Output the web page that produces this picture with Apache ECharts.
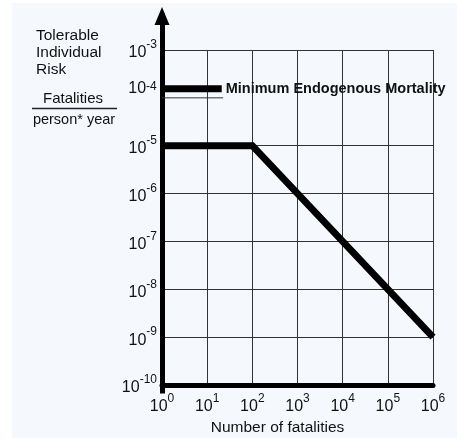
<!DOCTYPE html>
<html>
<head>
<meta charset="utf-8">
<script src="https://cdn.jsdelivr.net/npm/echarts@6/dist/echarts.min.js"></script>
<style>
  body { margin: 0; background: #fff; }
  #panel { position: absolute; left: 12px; top: 3px; width: 445px; height: 435px; background: #f5f9fe; }
  #main { position: absolute; left: 0; top: 0; width: 457px; height: 441px; }
</style>
</head>
<body>
<div id="panel"></div>
<div id="main"></div>
<script>
// data
const criterionX = [1, 100, 1e6];
const criterionY = [1e-5, 1e-5, 1e-9];
const mortalityX = [1, 21];
const mortalityY = [1.55e-4, 1.55e-4];
const shortGridX = [1, 22.6];
const shortGridY = [1e-4, 1e-4];
const mortalityLabel = 'Minimum Endogenous Mortality';
const yTitle = ['Tolerable', 'Individual', 'Risk'];
const unitTop = 'Fatalities';
const unitBottom = 'person* year';
const xTitle = 'Number of fatalities';

const FONT = '"Liberation Sans", Arial, sans-serif';
const zip = (xs, ys) => xs.map((x, i) => [x, ys[i]]);

const chart = echarts.init(document.getElementById('main'));

// 10^n label, the 10^-4 one sits a bit higher in the original (taller spacer line)
const powLabel = v => {
  const e = Math.round(Math.log10(v));
  return e === -4 ? '{t|10}{s|' + e + '}{g| }' : '{b|10}{s|' + e + '}';
};
const richPow = {
  b: { fontSize: 16, fontFamily: FONT, color: '#111', lineHeight: 22, verticalAlign: 'bottom' },
  t: { fontSize: 16, fontFamily: FONT, color: '#111', lineHeight: 22, verticalAlign: 'top' },
  s: { fontSize: 12, fontFamily: FONT, color: '#111', lineHeight: 12, verticalAlign: 'top' },
  g: { fontSize: 1, lineHeight: 34 }
};

// hide the 1e-4 split line (index 6), it only runs a short way in the original
const yLineColors = ['#333', '#333', '#333', '#333', '#333', '#333', 'rgba(0,0,0,0)', '#333'];

const option = {
  animation: false,
  backgroundColor: 'transparent',
  grid: [
    { left: 162, right: 24, top: 50, bottom: 50 },
    { left: 162, right: 294, top: 16, bottom: 50 }
  ],
  xAxis: [
    {
      type: 'log', logBase: 10, min: 1, max: 1e6, splitNumber: 6,
      axisLine: { lineStyle: { color: '#000', width: 5 } },
      axisTick: { show: false },
      axisLabel: { formatter: powLabel, rich: richPow, margin: 8 },
      splitLine: { show: true, lineStyle: { color: '#333', width: 1 } },
      name: xTitle, nameLocation: 'middle', nameGap: 35,
      nameTextStyle: { fontSize: 15.5, fontFamily: FONT, color: '#111', padding: [0, 40, 0, 0] }
    },
    { gridIndex: 1, type: 'value', show: false }
  ],
  yAxis: [
    {
      type: 'log', logBase: 10, min: 1e-10, max: 1e-3, splitNumber: 7,
      axisLine: { show: false },
      axisTick: { show: false },
      axisLabel: { formatter: powLabel, rich: richPow, margin: 5 },
      splitLine: { show: true, lineStyle: { color: yLineColors, width: 1 } }
    },
    {
      gridIndex: 1, type: 'value', min: 0, max: 1,
      axisLine: {
        show: true, symbol: ['none', 'triangle'], symbolSize: [15, 18],
        lineStyle: { color: '#000', width: 5, cap: 'square' }
      },
      axisTick: { show: false }, axisLabel: { show: false }, splitLine: { show: false }
    }
  ],
  series: [
    {
      type: 'line', data: zip(shortGridX, shortGridY), symbol: 'none', z: 1,
      lineStyle: { color: '#333', width: 1 }
    },
    {
      type: 'line', data: zip(mortalityX, mortalityY), symbol: 'none', z: 3,
      lineStyle: { color: '#000', width: 7, cap: 'butt' },
      endLabel: {
        show: true, distance: 4, formatter: mortalityLabel,
        fontSize: 14.5, fontWeight: 'bold', fontFamily: FONT, color: '#111'
      }
    },
    {
      type: 'line', data: zip(criterionX, criterionY), symbol: 'none', z: 3,
      lineStyle: { color: '#000', width: 7, join: 'miter', cap: 'butt' }
    }
  ],
  graphic: [
    {
      type: 'text', left: 36, top: 27,
      style: { text: yTitle.join('\n'), font: '15.5px ' + FONT, fill: '#111', lineHeight: 17 }
    },
    {
      type: 'text', x: 73, y: 99,
      style: { text: unitTop, font: '15px ' + FONT, fill: '#111', align: 'center', verticalAlign: 'middle' }
    },
    {
      type: 'line', shape: { x1: 32, y1: 108.5, x2: 117, y2: 108.5 },
      style: { stroke: '#222', lineWidth: 1.5 }
    },
    {
      type: 'text', x: 74, y: 120,
      style: { text: unitBottom, font: '14.5px ' + FONT, fill: '#111', align: 'center', verticalAlign: 'middle' }
    }
  ]
};

chart.setOption(option);
</script>
</body>
</html>
